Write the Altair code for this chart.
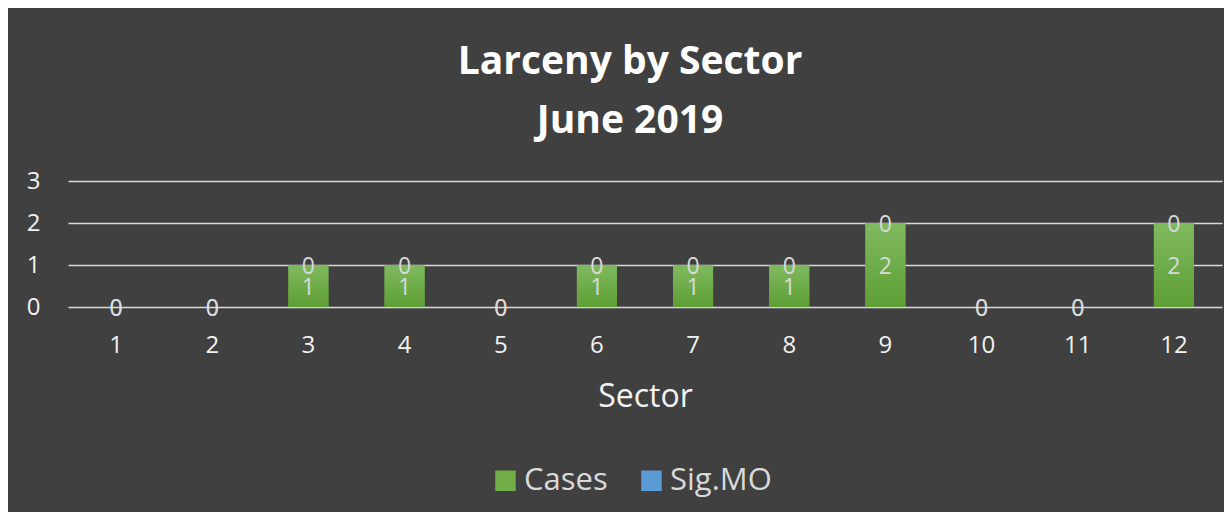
import altair as alt
import pandas as pd

sectors = ["1", "2", "3", "4", "5", "6", "7", "8", "9", "10", "11", "12"]
cases = [0, 0, 1, 1, 0, 1, 1, 1, 2, 0, 0, 2]
sig_mo = [0, 0, 0, 0, 0, 0, 0, 0, 0, 0, 0, 0]
series = ["Cases", "Sig.MO"]
series_colors = ["#70ad47", "#5b9bd5"]
y_ticks = [0, 1, 2, 3]

rows = []
for s, c, m in zip(sectors, cases, sig_mo):
    rows.append({"Sector": s, "Series": "Cases", "Value": c, "order": 0})
    rows.append({"Sector": s, "Series": "Sig.MO", "Value": m, "order": 1})
df = pd.DataFrame(rows)

FONT = "Open Sans"
BG = "#404040"
LABEL = "#d9d9d9"

x_enc = alt.X(
    "Sector:N",
    sort=sectors,
    scale=alt.Scale(paddingInner=0.584, paddingOuter=0.292),
    axis=alt.Axis(
        title="Sector",
        labelAngle=0,
        labelFontSize=24,
        labelColor="#f2f2f2",
        labelPadding=26,
        labelFont=FONT,
        domain=False,
        ticks=False,
        titleFont=FONT,
        titleFontSize=32,
        titleFontWeight="normal",
        titleColor="#f2f2f2",
        titlePadding=24,
    ),
)
y_scale = alt.Scale(domain=[0, 3], nice=False)
y_axis = alt.Axis(
    title=None,
    values=y_ticks,
    grid=True,
    gridColor=LABEL,
    gridWidth=1.5,
    domain=False,
    ticks=False,
    labelFontSize=24,
    labelColor="#f2f2f2",
    labelFont=FONT,
    labelPadding=28,
)

base = alt.Chart(df)

bars = base.mark_bar().encode(
    x=x_enc,
    y=alt.Y("sum(Value):Q", scale=y_scale, axis=y_axis, stack="zero"),
    color=alt.Color(
        "Series:N",
        scale=alt.Scale(domain=series, range=series_colors),
        legend=alt.Legend(
            title=None,
            orient="none",
            legendX=422,
            legendY=284,
            padding=0,
            direction="horizontal",
            symbolType="square",
            symbolSize=420,
            symbolStrokeWidth=0,
            labelFontSize=31,
            labelFont=FONT,
            labelColor=LABEL,
            columnPadding=28,
            labelOffset=3,
        ),
    ),
    order=alt.Order("order:Q"),
)

grad = alt.Gradient(
    gradient="linear",
    x1=0, y1=0, x2=0, y2=1,
    stops=[
        alt.GradientStop(color="#80ba60", offset=0),
        alt.GradientStop(color="#5e9e34", offset=1),
    ],
)

green = base.transform_filter(alt.datum.Series == "Cases").mark_bar(fill=grad).encode(
    x=alt.X("Sector:N", sort=sectors),
    y=alt.Y("Value:Q", scale=y_scale),
)

labels = base.transform_stack(
    stack="Value",
    groupby=["Sector"],
    as_=["y0", "y1"],
    sort=[alt.SortField("order", order="ascending")],
).transform_calculate(
    mid="(datum.y0 + datum.y1) / 2"
).mark_text(
    baseline="middle", align="center", fontSize=23, font=FONT, color=LABEL, dy=2
).encode(
    x=alt.X("Sector:N", sort=sectors),
    y=alt.Y("mid:Q", scale=y_scale),
    text=alt.Text("Value:Q"),
)

chart = (
    alt.layer(bars, green, labels)
    .properties(
        width=1154,
        height=126,
        title=alt.TitleParams(
            text=["Larceny by Sector", "June 2019"],
            fontSize=39,
            font=FONT,
            fontWeight="bold",
            color="#ffffff",
            lineHeight=59,
            anchor="middle",
            dx=-15,
            offset=28,
        ),
        background=BG,
        padding={"left": 60, "top": 173, "right": 2, "bottom": 205},
        autosize=alt.AutoSizeParams(type="none"),
    )
    .configure_view(stroke=None)
)

chart.save("out.html", embed_options={"renderer": "svg", "actions": False})
